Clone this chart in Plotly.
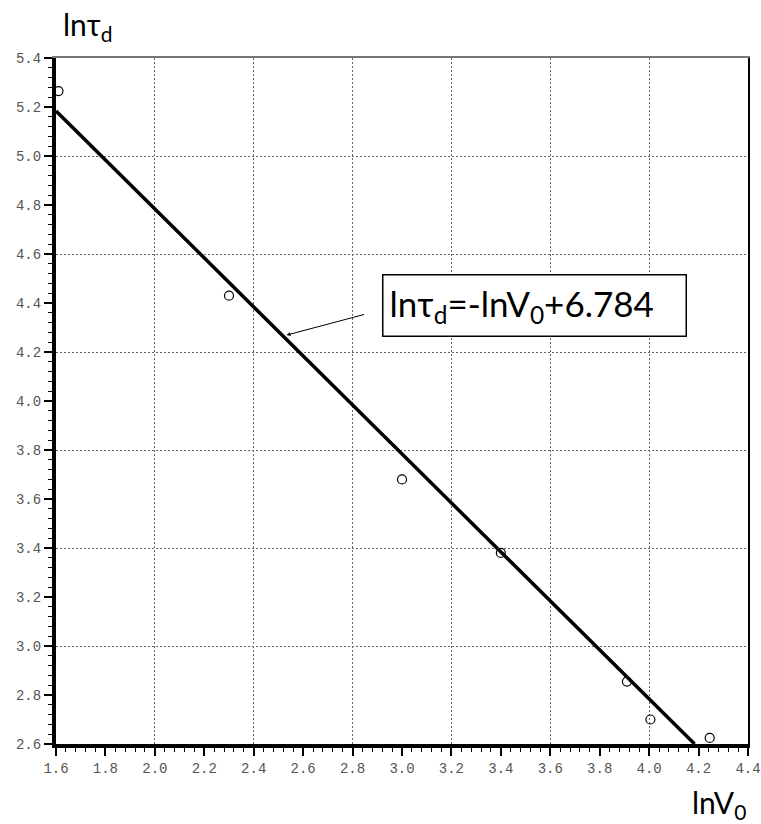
import plotly.graph_objects as go

# data
ln_v0 = [1.61, 2.30, 3.00, 3.40, 3.91, 4.005, 4.245]
ln_tau = [5.265, 4.43, 3.68, 3.38, 2.855, 2.70, 2.625]

# fitted line lnτd = -lnV0 + 6.784
slope = -1.0
intercept = 6.784
fit_x = [1.6, 4.184]
fit_y = [slope * x + intercept for x in fit_x]

x_range = [1.6, 4.4]
y_range = [2.6, 5.4]
x_ticks = [1.6, 1.8, 2.0, 2.2, 2.4, 2.6, 2.8, 3.0, 3.2, 3.4, 3.6, 3.8, 4.0, 4.2, 4.4]
y_ticks = [2.6, 2.8, 3.0, 3.2, 3.4, 3.6, 3.8, 4.0, 4.2, 4.4, 4.6, 4.8, 5.0, 5.2, 5.4]
x_tick_text = ["1.6", "1.8", "2.0", "2.2", "2.4", "2.6", "2.8", "3.0", "3.2", "3.4", "3.6", "3.8", "4.0", "4.2", "4.4"]
y_tick_text = ["2.6", "2.8", "3.0", "3.2", "3.4", "3.6", "3.8", "4.0", "4.2", "4.4", "4.6", "4.8", "5.0", "5.2", "5.4"]
x_grid = [2.0, 2.4, 2.8, 3.2, 3.6, 4.0, 4.4]
y_grid = [3.0, 3.4, 3.8, 4.2, 4.6, 5.0, 5.4]

tick_font = dict(family="Liberation Mono, DejaVu Sans Mono, monospace", size=14, color="#555")
big_font = dict(family="Lato, Open Sans, sans-serif", size=30, color="black")
eq_font = dict(family="Lato, Open Sans, sans-serif", size=35, color="black")

fig = go.Figure()

fig.add_trace(go.Scatter(
    x=fit_x, y=fit_y, mode="lines",
    line=dict(color="black", width=3.5),
    showlegend=False, hoverinfo="skip"))

fig.add_trace(go.Scatter(
    x=ln_v0, y=ln_tau, mode="markers",
    marker=dict(symbol="circle-open", size=9, color="black", line=dict(width=1.2)),
    showlegend=False))

# invisible trace on overlay axes (grid / borders)
fig.add_trace(go.Scatter(
    x=ln_v0, y=ln_tau, mode="markers", xaxis="x2", yaxis="y2",
    marker=dict(opacity=0), showlegend=False, hoverinfo="skip"))

fig.update_layout(
    width=761, height=824,
    paper_bgcolor="white", plot_bgcolor="white",
    margin=dict(l=56, r=13, t=58, b=80, autoexpand=False),
    xaxis=dict(range=x_range, tickmode="array", tickvals=x_ticks, ticktext=x_tick_text,
               showgrid=False, zeroline=False, ticklabeloverflow="allow", automargin=False,
               showline=True, linecolor="black", linewidth=4,
               ticks="outside", ticklen=8, tickwidth=1.5, tickcolor="black",
               tickfont=tick_font, layer="above traces",
               minor=dict(dtick=0.04, tick0=1.6, ticks="outside", ticklen=4, tickcolor="black",
                          tickwidth=1, showgrid=False)),
    yaxis=dict(range=y_range, tickmode="array", tickvals=y_ticks, ticktext=y_tick_text,
               showgrid=False, zeroline=False, ticklabeloverflow="allow", automargin=False,
               showline=True, linecolor="black", linewidth=4,
               ticks="outside", ticklen=8, tickwidth=1.5, tickcolor="black",
               tickfont=tick_font, layer="above traces",
               minor=dict(dtick=0.04, tick0=2.6, ticks="outside", ticklen=4, tickcolor="black",
                          tickwidth=1, showgrid=False)),
    xaxis2=dict(range=x_range, overlaying="x", side="top", tickmode="array", tickvals=x_grid,
                showticklabels=False, ticks="", zeroline=False, automargin=False,
                showgrid=True, gridcolor="#666", griddash="2px,2px", gridwidth=1,
                showline=True, linecolor="#777", linewidth=1.5),
    yaxis2=dict(range=y_range, overlaying="y", side="right", tickmode="array", tickvals=y_grid,
                showticklabels=False, ticks="", zeroline=False, automargin=False,
                showgrid=True, gridcolor="#666", griddash="2px,2px", gridwidth=1,
                showline=True, linecolor="black", linewidth=2),
)

# axis titles
fig.add_annotation(text="lnτ<sub>d</sub>", xref="paper", yref="paper",
                   x=0, xshift=5, y=1.0, yshift=10, xanchor="left", yanchor="bottom",
                   showarrow=False, font=big_font)
fig.add_annotation(text="lnV<sub>0</sub>", xref="paper", yref="paper",
                   x=1.0, xshift=0, y=0, yshift=-38, xanchor="right", yanchor="top",
                   showarrow=False, font=big_font)

# equation box
fig.add_annotation(text="lnτ<sub>d</sub>=-lnV<sub>0</sub>+6.784",
                   x=3.535, y=4.39, xref="x", yref="y",
                   width=290, height=48, align="left", valign="middle",
                   showarrow=False, font=eq_font,
                   bordercolor="black", borderwidth=1.5, borderpad=6, bgcolor="white")
# pointer arrow
fig.add_annotation(text="", x=2.533, y=4.269, xref="x", yref="y",
                   ax=79, ay=-21, showarrow=True, arrowhead=2, arrowsize=0.8,
                   arrowwidth=1, arrowcolor="black")

fig.write_html("out.html", config={"displayModeBar": False},
               post_script="document.body.style.margin='0';")
